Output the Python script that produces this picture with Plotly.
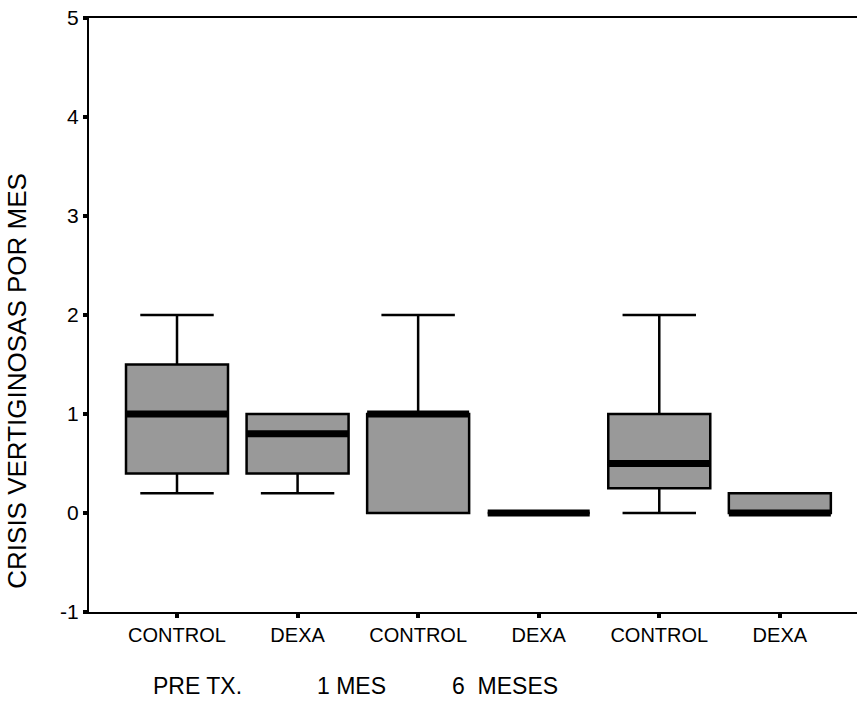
import plotly.graph_objects as go

# ---- data ----
categories = ["CONTROL", "DEXA", "CONTROL", "DEXA", "CONTROL", "DEXA"]
positions = [0, 1, 2, 3, 4, 5]
lower_whisker = [0.2, 0.2, 0.0, 0.0, 0.0, 0.0]
q1_values = [0.4, 0.4, 0.0, 0.0, 0.25, 0.0]
medians = [1.0, 0.8, 1.0, 0.0, 0.5, 0.0]
q3_values = [1.5, 1.0, 1.0, 0.0, 1.0, 0.2]
upper_whisker = [2.0, 1.0, 2.0, 0.0, 2.0, 0.2]
group_labels = ["PRE TX.", "1 MES", "6  MESES"]
group_label_x = [0.166, 1.45, 2.72]
y_ticks = [-1, 0, 1, 2, 3, 4, 5]
y_tick_text = ["-1", "0", "1", "2", "3", "4", "5"]
y_title = "CRISIS VERTIGINOSAS POR MES"

BOX_W = 0.846
FONT = "Liberation Sans, Arial, sans-serif"

fig = go.Figure()
fig.add_trace(go.Box(
    x=positions, q1=q1_values, median=medians, q3=q3_values,
    lowerfence=lower_whisker, upperfence=upper_whisker,
    width=BOX_W, whiskerwidth=0.72,
    fillcolor="#999999", line=dict(color="black", width=2.5),
    boxpoints=False, showlegend=False, hoverinfo="skip",
))
# thick median bars
for xp, m in zip(positions, medians):
    fig.add_trace(go.Scatter(
        x=[xp - BOX_W / 2, xp + BOX_W / 2], y=[m, m], mode="lines",
        line=dict(color="black", width=7), showlegend=False, hoverinfo="skip",
    ))

fig.update_layout(
    width=857, height=713,
    margin=dict(l=89, r=0, t=18, b=101),
    plot_bgcolor="white", paper_bgcolor="white",
    font=dict(family=FONT, color="black"),
    xaxis=dict(
        range=[-0.73, 5.64], tickmode="array", tickvals=positions, ticktext=categories,
        showline=True, linecolor="black", linewidth=2, mirror=True,
        ticks="outside", ticklen=4, tickwidth=4, tickcolor="black",
        showgrid=False, zeroline=False, tickfont=dict(size=20),
    ),
    yaxis=dict(
        range=[-1, 5], tickmode="array", tickvals=y_ticks, ticktext=y_tick_text,
        showline=True, linecolor="black", linewidth=2,
        ticks="outside", ticklen=4, tickwidth=4, tickcolor="black",
        showgrid=False, zeroline=False, tickfont=dict(size=21),
    ),
)

for gx, gl in zip(group_label_x, group_labels):
    fig.add_annotation(x=gx, xref="x", y=-0.1246, yref="paper", text=gl,
                       showarrow=False, font=dict(size=23), xanchor="center", yanchor="middle")

fig.add_annotation(x=-0.094, xref="paper", y=0.389, yref="paper", text=y_title,
                   textangle=-90, showarrow=False, font=dict(size=26),
                   xanchor="center", yanchor="middle")

fig.write_html("out.html")
